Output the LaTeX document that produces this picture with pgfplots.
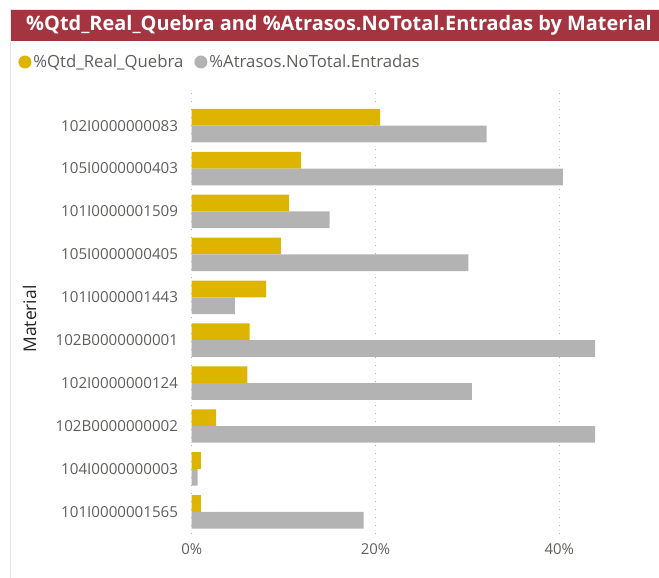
\documentclass[border=0pt]{standalone}
\usepackage{pgfplots}
\pgfplotsset{compat=1.18}
\usepackage{fontspec}
\setmainfont{Open Sans}
\definecolor{qyel}{HTML}{DDB500}
\definecolor{qgry}{HTML}{B3B3B3}
\definecolor{tbar}{HTML}{A4343F}
\definecolor{lbl}{HTML}{605E5C}
\definecolor{dark}{HTML}{252423}
\begin{document}
\begin{tikzpicture}
\path[use as bounding box] (0bp,0bp) rectangle (659bp,-578bp);
\fill[tbar] (10bp,-9bp) rectangle (659bp,-41bp);
\draw[black!10] (10bp,-9bp)--(10bp,-578bp);
\draw[black!10] (10bp,-9bp)--(659bp,-9bp);
\node[anchor=west, text=white, font=\bfseries\fontsize{20}{24}\selectfont, inner sep=0] at (26bp,-25bp) {\%Qtd\_Real\_Quebra and \%Atrasos.NoTotal.Entradas by Material};
\begin{axis}[
  at={(191.7bp,-93bp)}, anchor=north west,
  scale only axis, width=459.5bp, height=445bp,
  xbar, bar width=0.39,
  xmin=0, xmax=50,
  ymin=-0.76, ymax=9.61, y dir=reverse,
  axis line style={draw=none},
  major tick length=0,
  xtick={0,20,40}, xticklabels={0\%,20\%,40\%},
  ytick={0,...,9},
  yticklabels={102I0000000083,105I0000000403,101I0000001509,105I0000000405,101I0000001443,102B0000000001,102I0000000124,102B0000000002,104I0000000003,101I0000001565},
  xmajorgrids, major grid style={dash pattern=on 1.2bp off 6.8bp, black!30, line width=0.9pt},
  yticklabel style={inner sep=0, xshift=-13.5bp, text=lbl, font=\fontsize{15.2}{18}\selectfont},
  xticklabel style={inner sep=0, yshift=-5bp, text=lbl, font=\fontsize{15}{18}\selectfont},
  ylabel={Material},
  ylabel style={at={(axis description cs:-0.353,0.492)}, anchor=center, text=dark, font=\fontsize{17.5}{20}\selectfont},
  legend columns=2,
  legend style={at={(axis description cs:-0.3775,1.0697)}, anchor=west, draw=none, fill=none, inner sep=0pt, font=\fontsize{16.8}{20}\selectfont, text=lbl, /tikz/every even column/.append style={column sep=9bp}},
  legend image code/.code={\fill[#1] (6.5bp,0bp) circle (6.5bp);},
]
\addplot[fill=qyel, draw=none, bar shift=-0.195] coordinates {
(20.5,0) (11.9,1) (10.6,2) (9.7,3) (8.1,4) (6.3,5) (6.05,6) (2.65,7) (1.0,8) (1.0,9)};
\addplot[fill=qgry, draw=none, bar shift=0.195] coordinates {
(32.1,0) (40.4,1) (15.0,2) (30.1,3) (4.7,4) (43.9,5) (30.5,6) (43.9,7) (0.65,8) (18.7,9)};
\legend{\%Qtd\_Real\_Quebra,\%Atrasos.NoTotal.Entradas}
\end{axis}
\end{tikzpicture}
\end{document}
